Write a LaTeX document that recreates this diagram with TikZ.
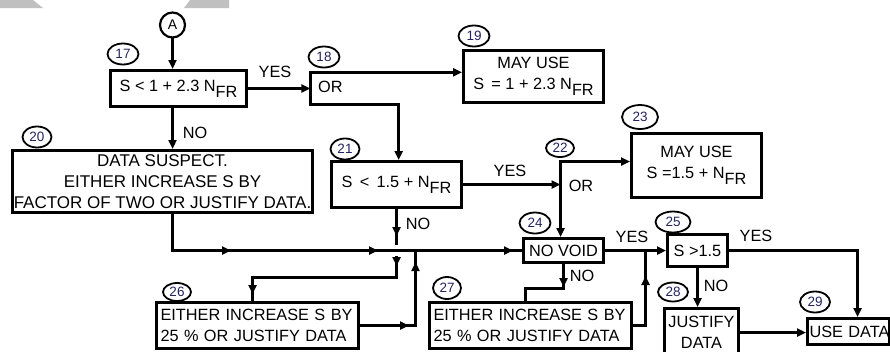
\documentclass[tikz,border=0pt]{standalone}
\usepackage{fontspec}
\setmainfont{Liberation Sans}
\usetikzlibrary{arrows.meta,shapes.geometric,decorations.markings}
\newcommand{\sFR}{\raisebox{-6pt}{FR}}
\definecolor{numcol}{RGB}{35,35,95}
\definecolor{wmgray}{RGB}{192,192,192}
\begin{document}
\begin{tikzpicture}[x=1pt,y=-1pt,
  >={Triangle[length=9pt,width=8pt]},
  box/.style={draw,line width=3pt,rectangle,inner sep=0pt,font=\fontsize{16.3}{20.5}\selectfont},
  num/.style={draw,ellipse,line width=1.8pt,minimum width=31pt,minimum height=21pt,inner sep=0pt,text=numcol,font=\fontsize{13.5}{13.5}\selectfont},
  conn/.style={line width=3pt,line cap=rect},
  lbl/.style={inner sep=0pt,font=\fontsize{16.3}{16.3}\selectfont},
  marks/.style={postaction={decorate,decoration={markings,#1}}}
]
\useasboundingbox (0,0) rectangle (890,351);
% faint watermark fragments
\fill[wmgray] (0,0) -- (33,0) -- (43,8) -- (0,8) -- cycle;
\fill[wmgray] (190,0) -- (229,0) -- (229,8) -- (184,8) -- cycle;

% nodes
\node[draw,circle,line width=2.2pt,minimum size=25pt,inner sep=0pt,font=\fontsize{14}{14}\selectfont] (A) at (172.5,25) {A};
\coordinate (xa) at (172.5,0);
\node[box,minimum width=136pt,minimum height=36pt] (b17) at (178.5,88.5) {S < 1 + 2.3 N\sFR};
\node[minimum width=88pt,minimum height=32pt,inner sep=0pt] (b18) at (354.5,88.5) {};
\node[lbl,anchor=west] (or18) at (318,87) {OR};
\node[box,minimum width=140pt,minimum height=52pt,align=center] (b19) at (533.5,76.5) {MAY USE\\S\, = 1 + 2.3 N\sFR};
\node[box,minimum width=300pt,minimum height=62pt,align=center,font=\fontsize{17}{21}\selectfont] (b20) at (162.5,181.5) {DATA SUSPECT.\\EITHER INCREASE S BY\\FACTOR OF TWO OR JUSTIFY DATA.};
\node[box,minimum width=130pt,minimum height=46pt] (b21) at (396.5,184.5) {S \,<\, 1.5 + N\sFR};
\coordinate (j22) at (560.5,161.5);
\node[lbl] (or22) at (581,186) {OR};
\node[box,minimum width=130pt,minimum height=64pt,align=center] (b23) at (696.5,165.5) {MAY USE\\S =1.5 + N\sFR};
\node[box,minimum width=80pt,minimum height=24pt] (b24) at (563.5,250.5) {NO VOID};
\node[box,minimum width=60pt,minimum height=32pt] (b25) at (697.5,250.5) {S >1.5};
\node[box,text width=194pt,inner xsep=4pt,minimum height=46pt,align=left] (b26) at (257.5,325.5) {EITHER INCREASE S BY\\25 \% OR JUSTIFY DATA};
\node[box,text width=194pt,inner xsep=4pt,minimum height=46pt,align=left] (b27) at (530.5,325.5) {EITHER INCREASE S BY\\25 \% OR JUSTIFY DATA};
\node[box,minimum width=74pt,minimum height=48pt,align=center] (b28) at (701.5,332.5) {JUSTIFY\\DATA};
\node[box,text width=78pt,inner xsep=2pt,minimum height=26pt,align=left] (b29) at (848.5,331.5) {\mbox{USE DATA}};

% number labels
\node[num] (n17) at (123,54) {17};
\node[num] (n18) at (324,57) {18};
\node[num] (n19) at (474,36) {19};
\node[num,minimum width=29pt] (n20) at (37,137) {20};
\node[num,minimum width=29pt] (n21) at (345,149) {21};
\node[num,minimum width=28pt,minimum height=18pt] (n22) at (560,148) {22};
\node[num,minimum width=36pt,minimum height=24pt] (n23) at (640,117) {23};
\node[num] (n24) at (535,223) {24};
\node[num,minimum width=35pt] (n25) at (673,222) {25};
\node[num,minimum width=28pt,minimum height=18pt] (n26) at (177,292) {26};
\node[num,minimum width=28pt,minimum height=22pt] (n27) at (447,288) {27};
\node[num,minimum width=30pt,minimum height=19pt] (n28) at (673,292) {28};
\node[num,minimum width=30pt] (n29) at (815,302) {29};

% YES / NO labels
\node[lbl] (yes17) at (275,72) {YES};
\node[lbl] (no17) at (195,133) {NO};
\node[lbl] (yes21) at (510,171) {YES};
\node[lbl] (no21) at (418,224) {NO};
\node[lbl] (yes24) at (632,237) {YES};
\node[lbl] (no24) at (582,276) {NO};
\node[lbl] (yes25) at (756,236) {YES};
\node[lbl] (no25) at (716,286) {NO};

% helper coordinates
\coordinate (c21a) at (396.5,243);
\coordinate (c21b) at (396.5,257);
\coordinate (c21c) at (396.5,277.5);
\coordinate (c26) at (252.5,277.5);
\coordinate (j26) at (415.5,250.5);
\coordinate (c24) at (563.5,288.5);
\coordinate (c27) at (525.5,288.5);
\coordinate (j27) at (645.5,250.5);
\coordinate (k29) at (857.5,250.5);

% connectors
\draw[conn,->] (A.south) -- (A.south |- b17.north);
\draw[conn,->] (b17.east) -- (b17.east -| b18.west);
\draw[conn,line cap=butt,->] (b18.south east) -- (b18.south west) -- (b18.north west) -- (b18.north west -| b19.west);
\draw[conn,->] (b18.south east) -- (b18.south east |- b21.north);
\draw[conn,->] (xa |- b17.south) -- (xa |- b20.north);
\draw[conn,->] (b21.east) -- (b21.east -| j22);
\draw[conn,->] (j22) -- (j22 -| b23.west);
\draw[conn,->] (j22) -- (j22 |- b24.north);
\draw[conn,marks={mark=at position 95pt with {\arrow{>}},mark=at position 242pt with {\arrow{>}},mark=at position 377pt with {\arrow{>}}}]
  (xa |- b20.south) -- (xa |- b24.west) -- (b24.west);
\draw[conn,marks={mark=at position 27pt with {\arrow{>}}}] (b21.south) -- (c21a);
\draw[conn,marks={mark=at position 9pt with {\arrow{>}},mark=at position 181pt with {\arrow{>}}}]
  (c21b) -- (c21c) -- (c26) -- (c26 |- b26.north);
\draw[conn,marks={mark=at position 49pt with {\arrow{>}},mark=at position 119pt with {\arrow{>}}}]
  (b26.east) -- (j26 |- b26.east) -- (j26);
\draw[conn,marks={mark=at position 23pt with {\arrow{>}}}]
  (b24.south) -- (c24) -- (c27) -- (c27 |- b27.north);
\draw[conn,marks={mark=at position 62pt with {\arrow{>}}}]
  (b27.east) -- (j27 |- b27.east) -- (j27);
\draw[conn,->] (b24.east) -- (b24.east -| b25.west);
\draw[conn,->] (b25.east) -- (k29) -- (k29 |- b29.north);
\draw[conn,->] (b25.south) -- (b25.south |- b28.north);
\draw[conn,->] (b28.east) -- (b28.east -| b29.west);
\end{tikzpicture}
\end{document}
